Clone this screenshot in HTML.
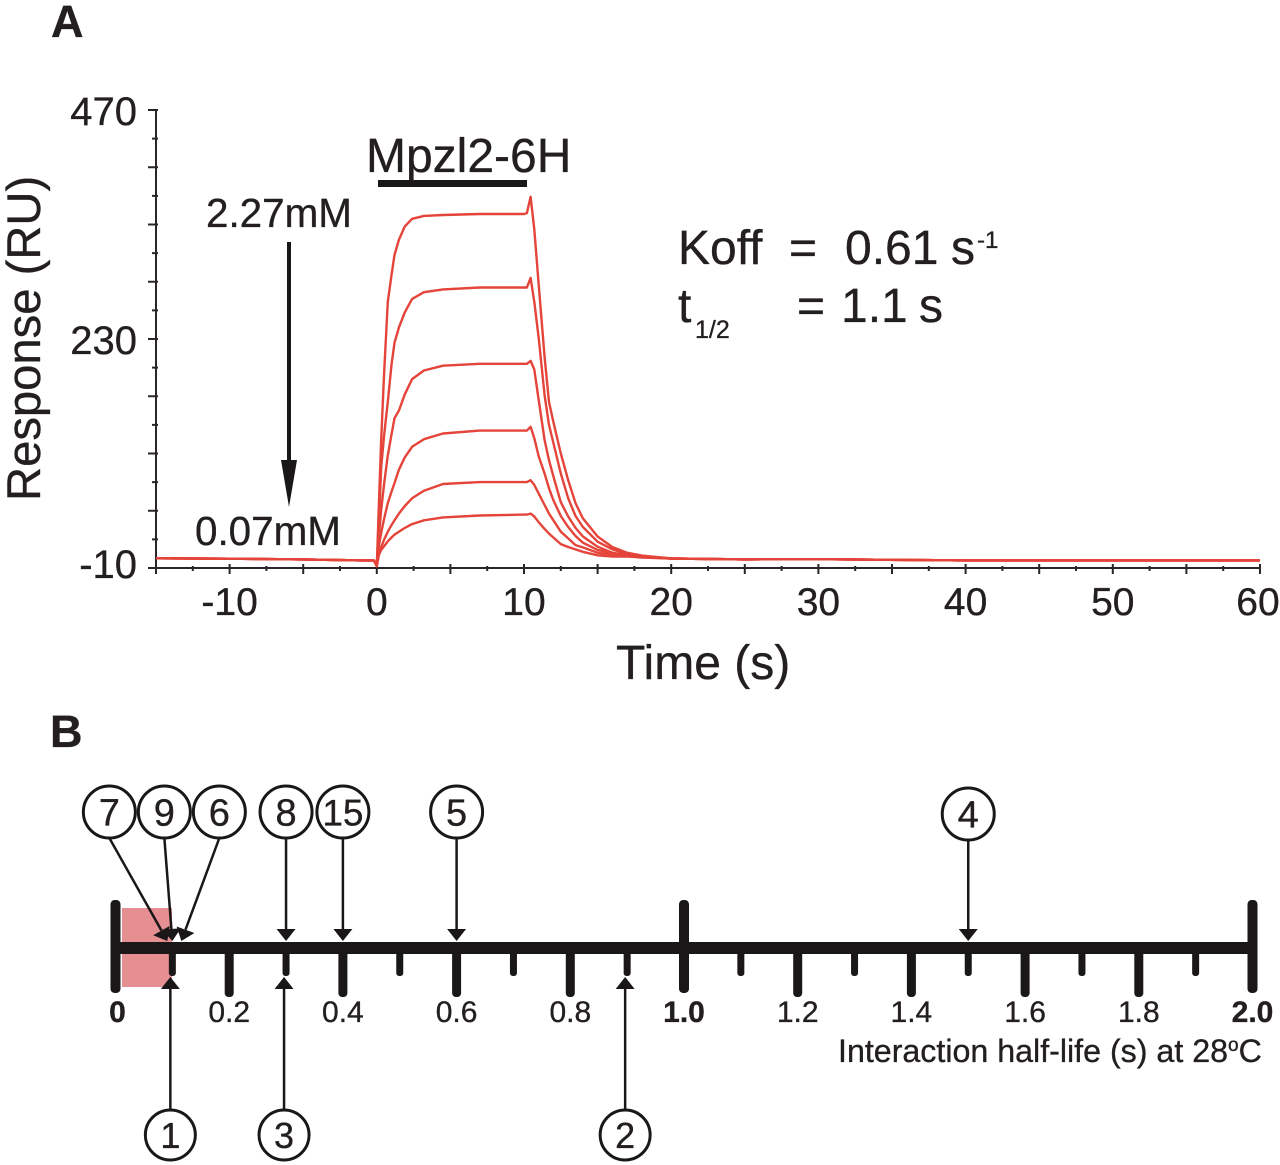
<!DOCTYPE html>
<html>
<head>
<meta charset="utf-8">
<title>Mpzl2-6H binding response and interaction half-life</title>
<style>
html,body{margin:0;padding:0;background:#fff;width:1280px;height:1165px;overflow:hidden}
svg{display:block}
text{font-family:"Liberation Sans",sans-serif;fill:#231f20;stroke:#231f20;stroke-width:0.35px}
</style>
</head>
<body>
<svg id="fig" width="1280" height="1165" viewBox="0 0 1280 1165" xmlns="http://www.w3.org/2000/svg">
  <rect width="1280" height="1165" fill="#fff"/>

  <text x="51" y="37" font-size="45" font-weight="bold">A</text>
  <text x="50" y="747" font-size="45" font-weight="bold">B</text>

  <g id="panelA"></g>

  <text transform="translate(40,501) rotate(-90)" font-size="47.2">Response (RU)</text>
  <text x="616" y="679" font-size="48">Time (s)</text>

  <text x="366" y="172" font-size="48">Mpzl2-6H</text>
  <rect x="378" y="180" width="149" height="7" fill="#1a1718"/>

  <text x="206" y="227" font-size="40.4">2.27mM</text>
  <text x="195" y="545" font-size="40.4">0.07mM</text>
  <g>
    <line x1="289" y1="242" x2="289" y2="470" stroke="#1a1718" stroke-width="4"/>
    <polygon points="281,460 297,460 289,507" fill="#1a1718"/>
  </g>

  <g>
    <text x="678" y="264" font-size="48">Koff</text>
    <text x="789" y="264" font-size="48">=</text>
    <text x="845" y="264" font-size="48">0.61</text>
    <text x="951" y="264" font-size="48">s</text>
    <text x="977" y="248" font-size="24">-1</text>
  </g>
  <g>
    <text x="678" y="322" font-size="48">t</text>
    <text x="695" y="338" font-size="25">1/2</text>
    <text x="797" y="322" font-size="48">=</text>
    <text x="841" y="322" font-size="48">1.1</text>
    <text x="919" y="322" font-size="48">s</text>
  </g>

  <rect x="122" y="908" width="50" height="79" fill="#e68f92"/>
  <g id="panelB"></g>

  <text x="838" y="1062" font-size="32.2">Interaction half-life (s) at 28<tspan font-size="19" dy="-11">o</tspan><tspan dy="11">C</tspan></text>
</svg>

<script>
/* ---------- Panel A data ---------- */
const times = [-15,-10,-5,-1,-0.2,0,0.15,0.3,0.5,0.75,1,1.2,1.5,1.9,2.4,3.2,4.5,7,10,10.2,10.45,10.7,11,11.4,11.7,12,12.5,13,13.5,14,15,16,17,18,20,25,30,40,50,60];
const conc2270 = [0.2,-0.3,-1,-2,-2,-8,60,125,196,269,297,318,334,348,356,359,360,361,361,362,379,345,287,211,164,143,110,82,58,42,23,12,6,3,0,-1,-0.8,-2,-2,-2];
const conc1135 = [0.2,-0.3,-1,-2,-2,-8,40,96,130,164,203,226,242,258,272,279,282,284,284,284,294,269,231,171,140,121,89,63,44.5,33,17.6,9.6,4.7,2.5,0,-1,-0.8,-2,-2,-2];
const conc567  = [0.2,-0.3,-1,-2,-2,-8,25,51,79,108,130,147,155,172,188,197,202,204,204,204,207,198,166,124,103,86,59,44,32,23,12.3,6,3.3,2,0,-1,-0.8,-2,-2,-2];
const conc284  = [0.2,-0.3,-1,-2,-2,-8,14,27,42,58,70,79,93,106,117,125,131,134,134,134,138,126,107,89,73.5,61,44.5,33,23.5,16.5,9,5.4,3,2,0,-1,-0.8,-2,-2,-2];
const conc142  = [0.2,-0.3,-1,-2,-2,-8,6,12,20,28,35,40,47,55,63,71,78,80,80,80,82,77,68,56,47,40,28,21,14,11.6,6,3.6,2.5,1.5,0,-1,-0.8,-2,-2,-2];
const conc70   = [0.2,-0.3,-1,-2,-2,-8,4,9,13,18,22,25,28,32,36,40,43,45,46,46,47,44,38,31,26,22,15,12,9.5,7,3.3,2,2,1,0,-1,-0.8,-2,-2,-2];
const seriesList = [conc2270,conc1135,conc567,conc284,conc142,conc70];
const seriesNames = ['2270','1135','567','284','142','70'];
const xTickLabels = [-10,0,10,20,30,40,50,60];
const yTickLabels = [-10,230,470];

/* ---------- Panel B data ---------- */
const scaleLabels = ['0','0.2','0.4','0.6','0.8','1.0','1.2','1.4','1.6','1.8','2.0'];
const boldLabels = ['0','1.0','2.0'];
const topIds = ['7','9','6','8','15','5','4'];
const topHalfLives = [0.1,0.1,0.1,0.3,0.4,0.6,1.5];
const bottomIds = ['1','3','2'];
const bottomHalfLives = [0.1,0.3,0.9];

/* ---------- helpers ---------- */
const NS = 'http://www.w3.org/2000/svg';
function mk(parent, tag, props, txt){
  const el = document.createElementNS(NS, tag);
  for (const k in props) el.setAttribute(k, props[k]);
  if (txt !== undefined) el.textContent = txt;
  parent.appendChild(el);
  return el;
}
const X0 = 156, X1 = 1260, Y0 = 568, Y1 = 110;
const xA = t => X0 + (t + 15) * (X1 - X0) / 75;
const yA = v => Y0 + (v + 10) * (Y1 - Y0) / 480;
const xB = v => 115.5 + v * 568.5;
const INK = '#1a1718';

/* ---------- Panel A ---------- */
const A = document.getElementById('panelA');

const yAxis = mk(A, 'line', {x1:X0, y1:Y0+2, x2:X0, y2:Y1, stroke:'#2a2627', 'stroke-width':2});



const xAxis = mk(A, 'line', {x1:X0-8, y1:Y0, x2:X1, y2:Y0, stroke:'#2a2627', 'stroke-width':2});



for (let v = -10; v <= 470; v += 30) {
  const major = (v + 10) % 60 === 0;
  const tick = mk(A, 'line', {x1: major ? X0-8 : X0-4, y1:yA(v), x2:X0+2, y2:yA(v), stroke:'#2a2627', 'stroke-width':2});
  
  
}
for (let t = -15; t <= 60; t += 2.5) {
  const major = t % 5 === 0;
  const tick = mk(A, 'line', {x1:xA(t), y1: major ? Y0-4 : Y0-2, x2:xA(t), y2: major ? Y0+6 : Y0+3, stroke:'#2a2627', 'stroke-width':2});
  
  
}
yTickLabels.forEach(v => {
  const lab = mk(A, 'text', {x:137, y:yA(v)+(v === -10 ? 10 : 15), 'text-anchor':'end', 'font-size':40}, String(v));
  
  
});
xTickLabels.forEach(t => {
  const lab = mk(A, 'text', {x:xA(t) - (t === 60 ? 2 : 0), y:615, 'text-anchor':'middle', 'font-size':39}, String(t));
  
  
});
seriesList.forEach((vals, i) => {
  const pts = vals.map((v, j) => xA(times[j]).toFixed(1) + ',' + yA(v).toFixed(1)).join(' ');
  const line = mk(A, 'polyline', {points:pts, fill:'none', stroke:'#e4443a', 'stroke-width':2.4, 'stroke-linejoin':'round'});
  
  
});

/* ---------- Panel B ---------- */
const B = document.getElementById('panelB');

const scaleLine = mk(B, 'rect', {x:116, y:942, width:1136, height:12, fill:INK});



for (let n = 0; n <= 20; n++) {
  const v = n / 10;
  const big = n % 10 === 0;
  const even = n % 2 === 0;
  const w = big ? 10 : (even ? 9 : 7);
  const top = big ? 900 : 950;
  const bottom = big ? 993 : (even ? 997 : 976);
  const tick = mk(B, 'rect', {x:xB(v)-w/2, y:top, width:w, height:bottom-top, rx:w/2.4, fill:INK});
  
  
}
scaleLabels.forEach(s => {
  const bold = boldLabels.includes(s);
  const lab = mk(B, 'text', {x:xB(parseFloat(s)) + (s === '0' ? 2 : 0), y:1022, 'text-anchor':'middle', 'font-size':30, 'font-weight':bold ? 'bold' : 'normal'}, s);
  
  
});

function callout(id, cx, cy, tipX, tipY, dir, r, fs){
  const tail = dir > 0 ? cy + r : cy - r;
  const dx = tipX - cx, dy = tipY - tail;
  const len = Math.hypot(dx, dy);
  const ux = dx / len, uy = dy / len;
  const bx = tipX - ux * 12, by = tipY - uy * 12;
  const shaft = mk(B, 'line', {x1:cx, y1:tail, x2:bx, y2:by, stroke:INK, 'stroke-width':2.5});
  
  
  const head = mk(B, 'polygon', {points:[tipX+','+tipY, (bx-uy*9.5)+','+(by+ux*9.5), (bx+uy*9.5)+','+(by-ux*9.5)].join(' '), fill:INK});
  
  
  const circ = mk(B, 'circle', {cx:cx, cy:cy, r:r, fill:'#fff', stroke:INK, 'stroke-width':3});
  
  
  const lab = mk(B, 'text', {x:cx, y:cy + fs*0.36, 'text-anchor':'middle', 'font-size':fs}, id);
  
  
}
const fanCircle = {'7':-63, '9':-8, '6':47};
const fanTip = {'7':-5, '9':0, '6':9};
topIds.forEach((id, i) => {
  const base = xB(topHalfLives[i]);
  const cx = base + (fanCircle[id] || 0);
  const tip = base + (fanTip[id] || 0);
  callout(id, cx, id === '4' ? 814 : 812, tip, 941, 1, 26, id === '15' ? 37 : 38);
});
bottomIds.forEach((id, i) => {
  const base = xB(bottomHalfLives[i]);
  callout(id, base - 2, 1135, base - 2, 977, -1, 25, 36);
});
</script>
</body>
</html>
